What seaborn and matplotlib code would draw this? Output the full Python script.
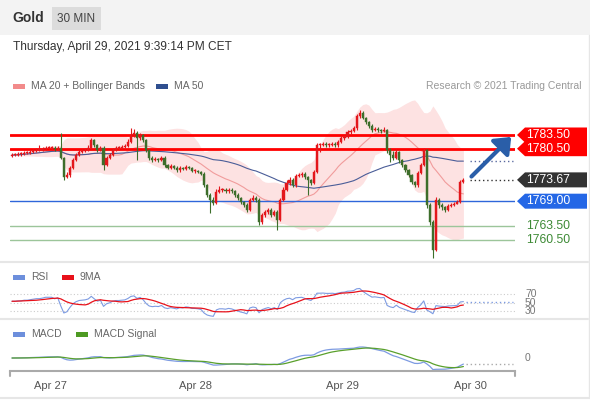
import numpy as np
import pandas as pd
import matplotlib
matplotlib.use('Agg')
import matplotlib.pyplot as plt
import seaborn as sns
from matplotlib.patches import Rectangle, Polygon, FancyArrowPatch
from matplotlib.lines import Line2D

sns.set_theme(style='white')
plt.rcParams['font.family'] = ['Liberation Sans', 'DejaVu Sans']

# ---------------- data (30 min bars, Gold) ----------------
first_open = 1779.0
closes = [
    1779.1, 1779.1, 1779.3, 1779.3, 1779.6, 1779.6, 1779.8, 1780.0, 1780.2, 1780.2,
    1780.4, 1780.7, 1780.7, 1780.7, 1780.4, 1780.7, 1778.5, 1774.3, 1774.7, 1776.3,
    1778.0, 1779.1, 1779.8, 1780.0, 1780.2, 1780.7, 1782.4, 1781.3, 1780.2, 1780.7,
    1776.9, 1778.5, 1779.1, 1780.2, 1780.7, 1780.7, 1780.9, 1781.1, 1782.0, 1783.5,
    1783.9, 1782.8, 1783.5, 1782.4, 1780.2, 1778.5, 1778.0, 1778.2, 1778.0, 1778.5,
    1776.9, 1776.3, 1776.7, 1776.3, 1775.8, 1776.3, 1776.1, 1776.5, 1776.3, 1775.6,
    1775.6, 1775.4, 1775.0, 1772.5, 1770.4, 1769.3, 1768.6, 1771.0, 1771.5, 1771.5,
    1771.2, 1771.5, 1771.2, 1770.4, 1769.7, 1768.8, 1768.2, 1767.1, 1769.3, 1769.7,
    1769.3, 1764.4, 1766.0, 1766.6, 1767.1, 1766.0, 1766.6, 1764.9, 1769.3, 1771.5,
    1773.0, 1773.6, 1772.5, 1774.5, 1774.7, 1775.0, 1774.3, 1773.6, 1773.0, 1775.4,
    1781.3, 1781.3, 1781.5, 1781.3, 1781.3, 1781.5, 1781.3, 1782.0, 1782.8, 1783.1,
    1784.2, 1784.4, 1785.0, 1787.7, 1788.3, 1787.2, 1786.3, 1785.5, 1784.6, 1784.8,
    1784.6, 1784.4, 1784.6, 1780.2, 1779.1, 1778.5, 1779.8, 1778.0, 1776.9, 1775.8,
    1774.7, 1773.2, 1772.5, 1775.2, 1776.9, 1780.2, 1768.2, 1764.4, 1758.3, 1769.3,
    1768.2, 1767.7, 1767.1, 1768.0, 1768.2, 1768.4, 1768.8, 1773.2, 1773.67,
]
highs = [
    1779.5, 1779.6, 1779.7, 1779.7, 1780.0, 1780.0, 1780.2, 1780.5, 1780.6, 1781.3,
    1780.8, 1781.0, 1781.0, 1781.0, 1781.0, 1781.1, 1783.9, 1778.7, 1775.4, 1776.7,
    1778.4, 1779.5, 1780.2, 1780.5, 1780.6, 1781.2, 1782.8, 1782.7, 1781.6, 1781.1,
    1781.0, 1778.9, 1779.5, 1780.6, 1781.1, 1781.1, 1781.3, 1781.6, 1782.6, 1785.0,
    1784.9, 1784.4, 1784.0, 1783.8, 1782.7, 1780.5, 1778.8, 1778.6, 1778.5, 1778.9,
    1778.8, 1777.2, 1777.1, 1777.0, 1776.6, 1776.7, 1776.5, 1776.9, 1776.8, 1776.5,
    1776.0, 1775.9, 1775.7, 1775.3, 1772.8, 1770.7, 1770.0, 1771.7, 1772.3, 1771.9,
    1771.8, 1771.9, 1771.8, 1771.5, 1770.7, 1770.0, 1769.1, 1768.5, 1769.7, 1770.3,
    1770.2, 1769.6, 1766.5, 1767.0, 1767.6, 1767.4, 1767.0, 1767.0, 1769.7, 1772.0,
    1773.6, 1774.3, 1774.0, 1775.0, 1775.2, 1775.4, 1775.3, 1774.6, 1773.9, 1775.9,
    1781.8, 1781.7, 1781.9, 1781.9, 1781.8, 1781.9, 1781.9, 1782.4, 1783.2, 1783.6,
    1784.6, 1784.9, 1785.5, 1788.2, 1789.0, 1788.7, 1787.5, 1786.6, 1785.8, 1785.2,
    1785.2, 1784.9, 1785.3, 1784.9, 1780.6, 1780.0, 1780.4, 1780.1, 1778.3, 1777.2,
    1776.1, 1775.0, 1773.5, 1775.6, 1777.3, 1780.7, 1780.5, 1768.6, 1764.8, 1769.9,
    1769.7, 1768.6, 1768.0, 1768.4, 1768.7, 1768.9, 1769.3, 1773.7, 1774.0,
]
lows = [
    1778.6, 1778.8, 1778.9, 1779.0, 1779.1, 1779.3, 1779.4, 1779.6, 1779.8, 1779.9,
    1780.0, 1780.2, 1780.4, 1780.3, 1780.1, 1780.2, 1778.2, 1773.6, 1774.0, 1774.4,
    1776.0, 1777.7, 1778.8, 1779.5, 1779.7, 1779.9, 1780.4, 1780.9, 1779.8, 1779.9,
    1775.8, 1776.6, 1778.2, 1778.9, 1780.0, 1780.3, 1780.5, 1780.6, 1780.8, 1781.8,
    1783.0, 1778.0, 1782.4, 1782.0, 1779.8, 1778.1, 1777.6, 1777.7, 1777.6, 1777.7,
    1776.5, 1776.0, 1776.0, 1776.0, 1775.5, 1775.5, 1775.8, 1775.9, 1776.0, 1775.3,
    1775.2, 1775.1, 1774.7, 1772.1, 1770.0, 1766.4, 1768.2, 1768.3, 1770.7, 1771.1,
    1770.9, 1770.9, 1770.8, 1770.0, 1769.3, 1768.4, 1767.8, 1766.6, 1766.8, 1769.0,
    1768.9, 1763.8, 1764.0, 1765.6, 1766.3, 1765.6, 1765.7, 1762.7, 1764.6, 1769.0,
    1771.2, 1772.6, 1772.1, 1772.2, 1774.2, 1774.4, 1773.9, 1770.4, 1772.6, 1772.7,
    1775.1, 1779.8, 1781.0, 1780.9, 1780.9, 1781.0, 1780.9, 1780.9, 1781.7, 1782.5,
    1782.8, 1783.8, 1784.1, 1784.7, 1787.2, 1786.9, 1786.0, 1785.1, 1784.2, 1784.3,
    1784.2, 1784.0, 1784.1, 1779.6, 1777.5, 1778.1, 1778.2, 1777.3, 1776.4, 1775.4,
    1774.3, 1772.8, 1772.0, 1772.2, 1774.9, 1776.6, 1767.6, 1763.8, 1756.6, 1758.0,
    1767.6, 1767.0, 1766.6, 1766.8, 1767.7, 1767.9, 1768.3, 1768.5, 1773.0,
]
opens = [first_open] + closes[:-1]

day_labels = ['Apr 27', 'Apr 28', 'Apr 29', 'Apr 30']
day_ticks = [12.5, 60.3, 108.5, 150.2]

resistances = [1783.50, 1780.50]
pivot = 1769.00
supports = [1763.50, 1760.50]
last_price = 1773.67

# average absolute bar move before the visible window (seeds Wilder RSI)
rsi_seed_gain = 0.45
rsi_seed_loss = 0.40

# ---------------- indicators ----------------
s = pd.Series(closes)
n = len(s)
xs = np.arange(n)
ma20 = s.rolling(20, min_periods=1).mean()
sd20 = s.rolling(20, min_periods=2).std(ddof=0).fillna(0)
bb_up = ma20 + 2 * sd20
bb_lo = ma20 - 2 * sd20
ma50 = s.rolling(50, min_periods=1).mean()

delta = s.diff().fillna(0).to_numpy()
ag = np.empty(n)
al = np.empty(n)
g_prev, l_prev = rsi_seed_gain, rsi_seed_loss
for i in range(n):
    g_prev = (g_prev * 13 + max(delta[i], 0)) / 14
    l_prev = (l_prev * 13 + max(-delta[i], 0)) / 14
    ag[i], al[i] = g_prev, l_prev
rsi = pd.Series(100 - 100 / (1 + ag / al))
rsi_ma = rsi.rolling(9, min_periods=1).mean()

ema12 = s.ewm(span=12, adjust=False).mean()
ema26 = s.ewm(span=26, adjust=False).mean()
macd = ema12 - ema26
signal = macd.ewm(span=9, adjust=False).mean()

# ---------------- figure ----------------
W, H = 590, 400
fig = plt.figure(figsize=(W / 100, H / 100), dpi=100)
fig.patch.set_facecolor('white')


def fx(x):
    return x / W


def fy(y):
    return 1 - y / H


# header
fig.add_artist(Rectangle((0, fy(35)), 1, 35 / H, transform=fig.transFigure,
                         facecolor='#f3f3f3', edgecolor='none', zorder=0))
fig.add_artist(Rectangle((fx(52), fy(30)), 49 / W, 23 / H, transform=fig.transFigure,
                         facecolor='#dcdcdc', edgecolor='none', zorder=1))
fig.text(fx(12), fy(18), 'Gold', fontsize=10, fontweight='bold', color='#333333',
         ha='left', va='center')
fig.text(fx(76.5), fy(18.5), '30 MIN', fontsize=8.5, color='#444444', ha='center', va='center')
fig.text(fx(13), fy(47), 'Thursday, April 29, 2021 9:39:14 PM CET', fontsize=8.6,
         color='#333333', ha='left', va='center')

# separators and frame
for yy in (262, 319):
    fig.add_artist(Line2D([0, fx(588)], [fy(yy), fy(yy)], transform=fig.transFigure,
                          color='#e6e6e6', lw=1.5))
fig.add_artist(Line2D([fx(588.5), fx(588.5)], [fy(35), fy(398)], transform=fig.transFigure,
                      color='#e6e6e6', lw=1))
fig.add_artist(Line2D([0, fx(588.5)], [fy(398), fy(398)], transform=fig.transFigure,
                      color='#e6e6e6', lw=1.5))


def legend_item(x, y, color, label):
    fig.add_artist(Rectangle((fx(x), fy(y + 2.5)), 12 / W, 5 / H, transform=fig.transFigure,
                             facecolor=color, edgecolor='none'))
    fig.text(fx(x + 18), fy(y), label, fontsize=7.5, color='#666666', ha='left', va='center')


legend_item(13, 86, '#f28b8b', 'MA 20 + Bollinger Bands')
legend_item(156, 86, '#2f4f8f', 'MA 50')
fig.text(fx(581), fy(86), 'Research \u00a9 2021 Trading Central', fontsize=7.5,
         color='#999999', ha='right', va='center')
legend_item(13, 277, '#6d8fdc', 'RSI')
legend_item(62, 277, '#e8111a', '9MA')
legend_item(13, 334, '#6d8fdc', 'MACD')
legend_item(76, 334, '#4d9a22', 'MACD Signal')

# axes
L, Wd = fx(10), 505 / W
ax = fig.add_axes([L, fy(262), Wd, 167 / H])
ax_r = fig.add_axes([L, fy(318), Wd, 31 / H])
ax_m = fig.add_axes([L, fy(371), Wd, 30 / H])
xlim = ((10 - 12) / 3.05, (515 - 12) / 3.05)
for a in (ax, ax_r, ax_m):
    a.set_facecolor('none')
    a.set_xlim(*xlim)
    for sp in a.spines.values():
        sp.set_visible(False)
    a.set_yticks([])
    a.set_xticks([])
    a.grid(False)

# ---- price panel ----
ax.set_ylim(1755.68, 1792.26)
ax.fill_between(xs, bb_lo, bb_up, color='#fde2e2', lw=0, zorder=1)
sns.lineplot(x=xs, y=ma20, ax=ax, color='#f19c9c', lw=0.8, zorder=2, legend=False)
sns.lineplot(x=xs, y=ma50, ax=ax, color='#4a5d98', lw=0.8, zorder=2, legend=False)

for lv in resistances:
    ax.axhline(lv, color='#ff0000', lw=2, zorder=3)
ax.axhline(pivot, color='#2f66da', lw=1, zorder=3)
for lv in supports:
    ax.axhline(lv, color='#9cc59a', lw=1, zorder=3)

o = np.array(opens)
c = np.array(closes)
up = c >= o
cols = np.where(up, '#e3171c', '#3d6e2b')
ax.vlines(xs, lows, highs, colors=cols, lw=0.8, zorder=4)
body_lo = np.minimum(o, c)
body_h = np.maximum(np.abs(c - o), 0.15)
ax.bar(xs, body_h, bottom=body_lo, width=0.72, color=cols, edgecolor=cols, lw=0.3, zorder=5)

x_end = xlim[1] - 0.6
ax.hlines(last_price, n + 1, x_end, colors='#333333', linestyles=(0, (1, 2)), lw=1, zorder=3)
ax.hlines(ma50.iloc[-1], n + 1, x_end, colors='#5a6aa0', linestyles=(0, (1, 2)), lw=1, zorder=3)
arrow = FancyArrowPatch((n + 1, last_price + 0.3), (x_end, resistances[0]),
                        arrowstyle='-|>,head_length=5.5,head_width=4.5', mutation_scale=1.6,
                        color='#2a5ea8', lw=3, zorder=6, clip_on=False)
ax.add_patch(arrow)

# right-side labels
inv = fig.transFigure.inverted()


def price_box(price, text, fc):
    yc = ax.transData.transform((0, price))[1]
    pts_disp = [(517, yc), (525, yc + 7.5), (587, yc + 7.5), (587, yc - 7.5), (525, yc - 7.5)]
    pts = inv.transform(np.array(pts_disp, dtype=float))
    fig.add_artist(Polygon(pts, closed=True, transform=fig.transFigure, facecolor=fc,
                           edgecolor='none', zorder=7))
    fig.text(fx(526), inv.transform((0, yc))[1], text, fontsize=8.8, color='white',
             ha='left', va='center', zorder=8)


price_box(resistances[0], f'{resistances[0]:.2f}', '#ff0000')
price_box(resistances[1], f'{resistances[1]:.2f}', '#ff0000')
price_box(last_price, f'{last_price:.2f}', '#333333')
price_box(pivot, f'{pivot:.2f}', '#2467e6')
for lv in supports:
    yc = ax.transData.transform((0, lv))[1]
    fig.text(fx(526), inv.transform((0, yc))[1], f'{lv:.2f}', fontsize=8.8, color='#3d8a35',
             ha='left', va='center')

# ---- RSI panel ----
ax_r.set_ylim(13.5, 86.5)
for lv in (70, 50, 30):
    ax_r.axhline(lv, color='#cccccc', lw=0.8, ls=(0, (1, 2)))
    yc = ax_r.transData.transform((0, lv))[1]
    fig.text(fx(525), inv.transform((0, yc))[1], str(lv), fontsize=7.5, color='#777777',
             ha='left', va='center')
sns.lineplot(x=xs, y=rsi, ax=ax_r, color='#7d9be2', lw=0.8, legend=False)
sns.lineplot(x=xs, y=rsi_ma, ax=ax_r, color='#e8111a', lw=0.9, legend=False)
ax_r.hlines(rsi.iloc[-1], n, x_end, colors='#7d9be2', linestyles=(0, (1, 2)), lw=1)

# ---- MACD panel ----
mx = max(macd.max(), signal.max())
mn = min(macd.min(), signal.min())
k = min(0.367 / mx, 0.416 / (-mn))
ax_m.set_ylim(-0.433 / k, 0.567 / k)
sns.lineplot(x=xs, y=macd, ax=ax_m, color='#7d9be2', lw=0.9, legend=False)
sns.lineplot(x=xs, y=signal, ax=ax_m, color='#5aa02c', lw=0.9, legend=False)
ax_m.hlines(macd.iloc[-1], n, x_end, colors='#aaaaaa', linestyles=(0, (1, 2)), lw=1)
yc0 = ax_m.transData.transform((0, 0))[1]
fig.text(fx(525), inv.transform((0, yc0))[1], '0', fontsize=7.5, color='#777777',
         ha='left', va='center')

# x axis
ax_m.spines['bottom'].set_visible(True)
ax_m.spines['bottom'].set_color('#aaaaaa')
ax_m.spines['bottom'].set_linewidth(1.5)
ax_m.set_xticks(day_ticks)
ax_m.set_xticklabels(day_labels, fontsize=8, color='#555555')
ax_m.tick_params(axis='x', length=0, pad=7)
for xe in xlim:
    ax_m.plot([xe, xe], [0, -0.18], transform=ax_m.get_xaxis_transform(), color='#aaaaaa',
              lw=1.5, clip_on=False)

fig.savefig('out.png', dpi=100, facecolor='white')
